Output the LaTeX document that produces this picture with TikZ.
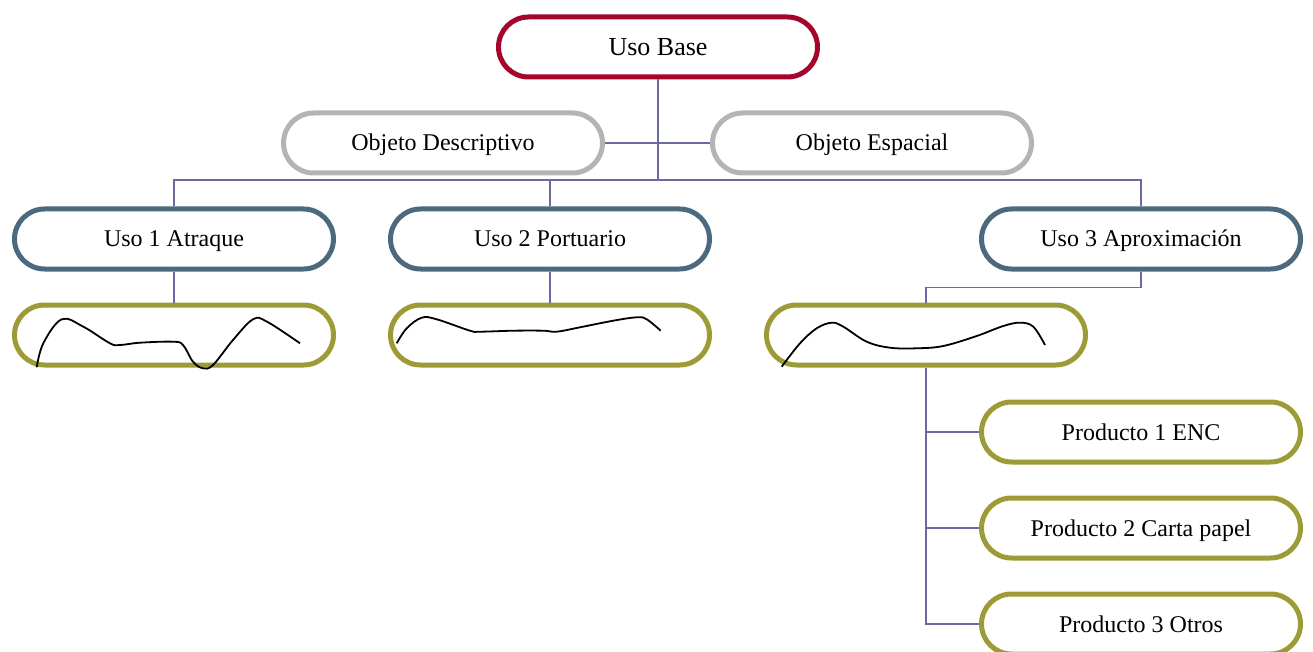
\documentclass[tikz,border=0pt]{standalone}
\usepackage{fontspec}
\setmainfont{Liberation Serif}
\definecolor{cred}{HTML}{A5052B}
\definecolor{cgray}{HTML}{B4B4B4}
\definecolor{cblue}{HTML}{4C6A7E}
\definecolor{colive}{HTML}{9C9B36}
\definecolor{cline}{HTML}{6B6AA0}
\begin{document}
\begin{tikzpicture}[x=1pt,y=-1pt,
  pill/.style={draw, line width=5pt, rounded corners=30pt, minimum width=319pt, minimum height=60pt, inner sep=0pt, text height=18pt, text depth=2pt, fill=white, font=\fontsize{24}{28}\selectfont},
  redpill/.style={pill, draw=cred, font=\fontsize{26}{30}\selectfont, text height=19pt, text depth=2pt},
  graypill/.style={pill, draw=cgray},
  bluepill/.style={pill, draw=cblue},
  olivepill/.style={pill, draw=colive},
  conn/.style={draw=cline, line width=1.8pt},
  wave/.style={black, line width=1.8pt}]
\useasboundingbox (0,0) rectangle (1313,652);
\coordinate (bus) at (658,180);
\node[redpill] (ub) at (658,47) {Uso Base};
\node[graypill] (od) at (443,143) {Objeto Descriptivo};
\node[graypill] (oe) at (872,143) {Objeto Espacial};
\node[bluepill] (u1) at (174,239) {Uso 1 Atraque};
\node[bluepill] (u2) at (550,239) {Uso 2 Portuario};
\node[bluepill] (u3) at (1141,239) {Uso 3 Aproximación};
\node[olivepill] (c1) at (174,335) {};
\node[olivepill] (c2) at (550,335) {};
\node[olivepill] (c3) at (926,335) {};
\node[olivepill] (p1) at (1141,432) {Producto 1 ENC};
\node[olivepill] (p2) at (1141,528) {Producto 2 Carta papel};
\node[olivepill] (p3) at (1141,624) {Producto 3 Otros};
\begin{scope}[conn]
\draw (ub.south) -- (bus);
\draw (od.east) -- (oe.west);
\draw (u1.north) |- (bus);
\draw (u2.north) -- (u2.north |- bus);
\draw (u3.north) |- (bus);
\draw (u1.south) -- (c1.north);
\draw (u2.south) -- (c2.north);
\draw (u3.south) -- ++(0,16) -| (c3.north);
\draw (c3.south) |- (p1.west);
\draw (c3.south) |- (p2.west);
\draw (c3.south) |- (p3.west);
\end{scope}
\draw[wave] plot[smooth, tension=0.6] coordinates {(36.7,367.3) (43.3,343.3) (61.7,319.3) (83.3,326.7) (110,343.3) (120,345) (140,342.7) (173,341.7) (183,345) (193,361.7) (203,368.3) (213,365) (233,340) (253,319.3) (267,321.7) (300,343.3)};
\draw[wave] plot[smooth, tension=0.6] coordinates {(396.7,343.3) (406.7,328.3) (421.7,317.7) (436.7,319.3) (470,330.7) (480,331.7) (513.3,330.7) (543.3,330.7) (556.7,331.7) (580,327.3) (613.3,320.7) (636.7,317.3) (646.7,319.3) (660.7,330.7)};
\draw[wave] plot[smooth, tension=0.6] coordinates {(781.7,366.7) (800,343.3) (816.7,328.3) (831.7,322.7) (843.3,326.7) (866.7,341.7) (890,347.7) (916.7,348.3) (943.3,346) (976.7,336) (1003.3,326) (1020,322.7) (1033.3,326.7) (1045,345)};
\end{tikzpicture}
\end{document}
